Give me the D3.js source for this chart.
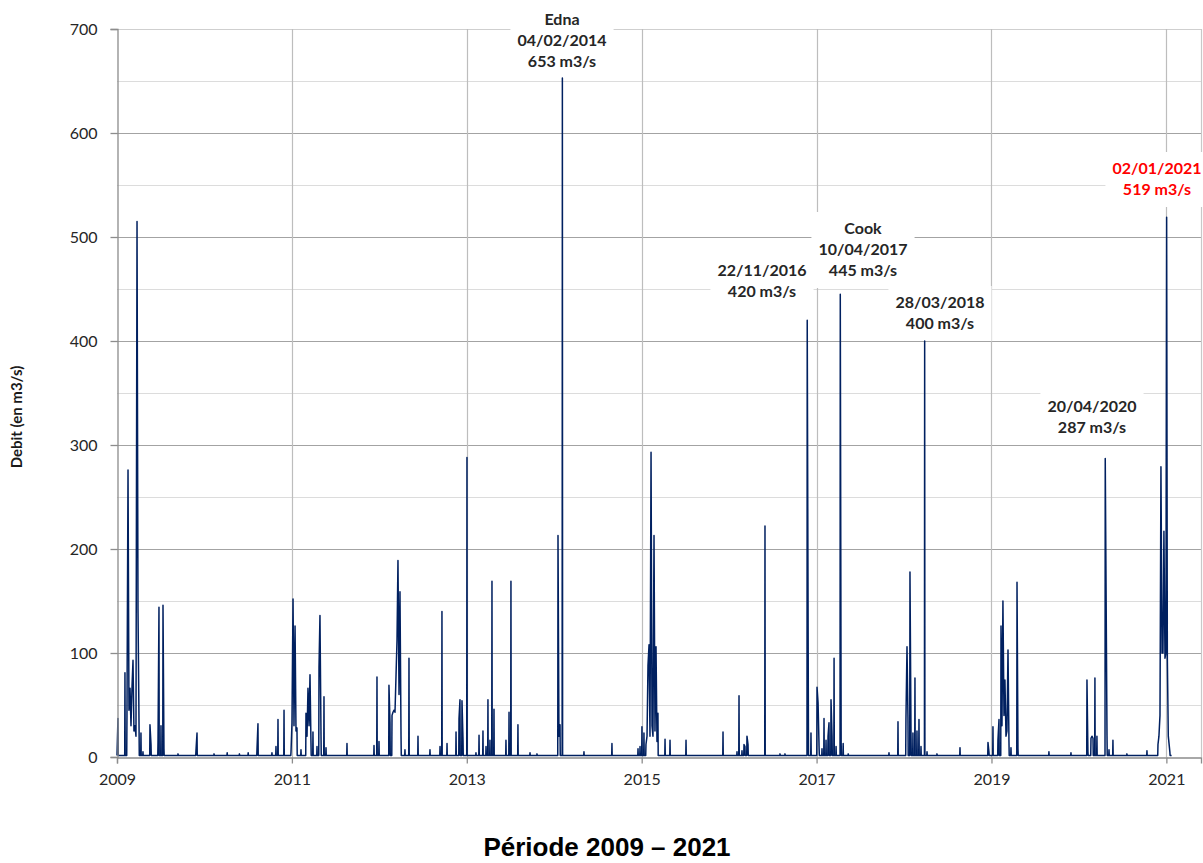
<!DOCTYPE html>
<html>
<head>
<meta charset="utf-8">
<script src="https://cdn.jsdelivr.net/npm/d3@7"></script>
<style>
  html, body { margin: 0; padding: 0; background: #fff; }
  svg { display: block; }
</style>
</head>
<body>
<svg id="chart" width="1203" height="863"></svg>
<script>
// ---------------- DATA ----------------
// Daily flow peaks, time as decimal year, flow in m3/s
const flowTimes = [
  2009.011, 2009.091, 2009.114, 2009.126, 2009.137, 2009.149, 2009.160, 2009.172, 2009.183, 2009.194,
  2009.206, 2009.217, 2009.229, 2009.240, 2009.252, 2009.274, 2009.297, 2009.377, 2009.389, 2009.469,
  2009.480, 2009.503, 2009.526, 2009.537, 2009.698, 2009.903, 2009.915, 2010.110, 2010.260, 2010.400,
  2010.500, 2010.601, 2010.612, 2010.772, 2010.818, 2010.841, 2010.910, 2010.990, 2011.001, 2011.013,
  2011.024, 2011.036, 2011.047, 2011.058, 2011.104, 2011.161, 2011.173, 2011.184, 2011.196, 2011.207,
  2011.218, 2011.241, 2011.287, 2011.310, 2011.321, 2011.333, 2011.367, 2011.390, 2011.630, 2011.939,
  2011.973, 2011.996, 2012.110, 2012.122, 2012.145, 2012.156, 2012.168, 2012.179, 2012.191, 2012.202,
  2012.213, 2012.225, 2012.236, 2012.248, 2012.293, 2012.339, 2012.442, 2012.579, 2012.694, 2012.716,
  2012.774, 2012.877, 2012.911, 2012.922, 2012.945, 2012.957, 2013.002, 2013.105, 2013.140, 2013.185,
  2013.220, 2013.242, 2013.265, 2013.288, 2013.311, 2013.448, 2013.483, 2013.505, 2013.585, 2013.723,
  2013.803, 2014.043, 2014.054, 2014.066, 2014.093, 2014.340, 2014.660, 2014.958, 2014.981, 2015.003,
  2015.026, 2015.049, 2015.061, 2015.072, 2015.084, 2015.095, 2015.107, 2015.118, 2015.129, 2015.141,
  2015.152, 2015.164, 2015.175, 2015.186, 2015.267, 2015.324, 2015.507, 2015.930, 2016.090, 2016.113,
  2016.147, 2016.170, 2016.181, 2016.204, 2016.216, 2016.410, 2016.582, 2016.639, 2016.893, 2016.905,
  2016.936, 2017.005, 2017.017, 2017.029, 2017.062, 2017.085, 2017.108, 2017.131, 2017.142, 2017.165,
  2017.177, 2017.200, 2017.223, 2017.271, 2017.281, 2017.304, 2017.362, 2017.828, 2017.931, 2018.022,
  2018.034, 2018.045, 2018.068, 2018.080, 2018.102, 2018.125, 2018.148, 2018.171, 2018.194, 2018.236,
  2018.263, 2018.377, 2018.640, 2018.960, 2018.971, 2019.017, 2019.074, 2019.086, 2019.109, 2019.120,
  2019.131, 2019.143, 2019.154, 2019.166, 2019.177, 2019.189, 2019.200, 2019.223, 2019.292, 2019.303,
  2019.657, 2019.909, 2020.092, 2020.103, 2020.138, 2020.149, 2020.161, 2020.183, 2020.206, 2020.301,
  2020.321, 2020.344, 2020.389, 2020.549, 2020.778, 2020.904, 2020.915, 2020.927, 2020.938, 2020.950,
  2020.961, 2020.972, 2020.984, 2020.995, 2021.003, 2021.011, 2021.022, 2021.040
];
const flowValues = [
  37, 81, 40, 276, 45, 66, 30, 68, 93, 25,
  30, 20, 515, 143, 30, 23, 5, 31, 12, 15,
  144, 30, 146, 8, 3, 6, 23, 3, 4, 3,
  4, 8, 32, 4, 10, 36, 45, 5, 33, 152,
  30, 126, 25, 28, 7, 42, 20, 66, 30, 79,
  15, 24, 10, 86, 136, 20, 58, 9, 13, 11,
  77, 15, 69, 33, 40, 43, 45, 43, 79, 112,
  189, 60, 159, 20, 7, 95, 20, 7, 10, 140,
  13, 24, 37, 55, 54, 16, 288, 4, 21, 25,
  10, 55, 16, 169, 46, 16, 43, 169, 31, 4,
  3, 213, 20, 31, 653, 5, 13, 8, 10, 29,
  23, 12, 20, 88, 108, 20, 293, 30, 20, 213,
  25, 106, 15, 42, 17, 16, 16, 24, 5, 59,
  6, 12, 10, 20, 12, 222, 3, 3, 420, 74,
  23, 67, 52, 8, 8, 37, 16, 20, 33, 55,
  20, 95, 10, 445, 14, 13, 3, 4, 34, 36,
  106, 38, 178, 20, 23, 76, 25, 36, 10, 400,
  5, 3, 9, 14, 5, 29, 16, 36, 126, 30,
  150, 40, 74, 20, 25, 103, 15, 9, 168, 8,
  5, 4, 74, 5, 18, 20, 18, 76, 20, 287,
  21, 7, 16, 3, 6, 12, 20, 40, 279, 100,
  100, 217, 95, 100, 519, 95, 20, 5
];
const BASE_FLOW = 1.5;          // low-water flow between events
const SERIES_START = 2009.0;
const SERIES_END = 2021.06;

const yTicks = [0, 100, 200, 300, 400, 500, 600, 700];
const yMinorTicks = [50, 150, 250, 350, 450, 550, 650];
const xTicks = [2009, 2011, 2013, 2015, 2017, 2019, 2021];

const annTexts = [
  ["Edna", "04/02/2014", "653 m3/s"],
  ["22/11/2016", "420 m3/s"],
  ["Cook", "10/04/2017", "445 m3/s"],
  ["28/03/2018", "400 m3/s"],
  ["20/04/2020", "287 m3/s"],
  ["02/01/2021", "519 m3/s"]
];
const annColors = ["#262626", "#262626", "#262626", "#262626", "#262626", "#ff0000"];

const yAxisTitle = "Debit (en m3/s)";
const xAxisTitle = "Période 2009 – 2021";

// ---------------- LAYOUT ----------------
const W = 1203, H = 863;
const plot = { left: 117, right: 1201, top: 29, bottom: 757 };
// annotation centres (px): x centre, y centre of first line
const annLayout = [
  { x: 562, y: 19 },
  { x: 762, y: 270 },
  { x: 863, y: 228 },
  { x: 940, y: 302 },
  { x: 1092, y: 406 },
  { x: 1157, y: 168 }
];
const LINE_H = 21;

const svg = d3.select("#chart");

const x = d3.scaleLinear().domain([2009, 2021.396]).range([plot.left, plot.right]);
const y = d3.scaleLinear().domain([0, 700]).range([plot.bottom, plot.top]);

const g = svg.append("g");

// minor horizontal gridlines
g.selectAll("line.minor").data(yMinorTicks).join("line")
  .attr("x1", plot.left).attr("x2", plot.right)
  .attr("y1", d => Math.round(y(d)) + 0.5).attr("y2", d => Math.round(y(d)) + 0.5)
  .attr("stroke", "#dcdcdc").attr("stroke-width", 1);

// major horizontal gridlines
g.selectAll("line.major").data(yTicks.filter(d => d > 0)).join("line")
  .attr("x1", plot.left).attr("x2", plot.right)
  .attr("y1", d => Math.round(y(d)) + 0.5).attr("y2", d => Math.round(y(d)) + 0.5)
  .attr("stroke", d => d === 700 ? "#cfcfcf" : "#a3a3a3").attr("stroke-width", 1.2);

// vertical gridlines
g.selectAll("line.vgrid").data(xTicks.filter(d => d > 2009)).join("line")
  .attr("x1", d => Math.round(x(d)) + 0.5).attr("x2", d => Math.round(x(d)) + 0.5)
  .attr("y1", plot.top).attr("y2", plot.bottom)
  .attr("stroke", "#bdbdbd").attr("stroke-width", 1.2);

// right border
g.append("line")
  .attr("x1", plot.right + 0.5).attr("x2", plot.right + 0.5)
  .attr("y1", plot.top).attr("y2", plot.bottom)
  .attr("stroke", "#c8c8c8").attr("stroke-width", 1.2);

// annotation white boxes (drawn over gridlines, under the series)
const fontAnn = "bold 16px Lato";
const ctx = document.createElement("canvas").getContext("2d");
ctx.font = fontAnn;
annTexts.forEach((lines, i) => {
  const L = annLayout[i];
  const w = d3.max(lines, s => ctx.measureText(s).width) + 14;
  const top = L.y - 16;
  const bottom = L.y + (lines.length - 1) * LINE_H + 18;
  g.append("rect")
    .attr("x", L.x - w / 2).attr("y", top)
    .attr("width", w).attr("height", bottom - top)
    .attr("fill", "#ffffff");
});

// series: peaks with low-water flow between separated events
const DAY = 1 / 365.25;
const GAP = 0.02;
const pts = [[SERIES_START, BASE_FLOW]];
flowTimes.forEach((t, i) => {
  const prevT = i === 0 ? SERIES_START : flowTimes[i - 1];
  if (t - prevT > GAP) {
    if (i > 0) pts.push([prevT + DAY, BASE_FLOW]);
    pts.push([t - DAY, BASE_FLOW]);
  }
  pts.push([t, flowValues[i]]);
});
pts.push([flowTimes[flowTimes.length - 1] + DAY, BASE_FLOW]);
pts.push([SERIES_END, BASE_FLOW]);

const line = d3.line().x(d => x(d[0])).y(d => y(d[1]));
g.append("path")
  .datum(pts)
  .attr("d", line)
  .attr("fill", "none")
  .attr("stroke", "#002060")
  .attr("stroke-width", 1.5)
  .attr("stroke-linejoin", "round");

// axes
const yAxis = d3.axisLeft(y).tickValues(yTicks).tickSize(7).tickPadding(13).tickFormat(d3.format("d"));
const yG = g.append("g").attr("transform", `translate(${plot.left + 0.5},0)`).call(yAxis);
yG.select(".domain").attr("stroke", "#8c8c8c").attr("stroke-width", 1.3);
yG.selectAll(".tick line").attr("stroke", "#8c8c8c").attr("stroke-width", 1.3);
yG.selectAll(".tick text").attr("fill", "#262626").style("font", "16px Lato").attr("dy", "0.34em");

const xAxis = d3.axisBottom(x).tickValues(xTicks).tickSize(6).tickPadding(10).tickFormat(d3.format("d"));
const xG = g.append("g").attr("transform", `translate(0,${plot.bottom + 0.5})`).call(xAxis);
xG.select(".domain").attr("stroke", "#8c8c8c").attr("stroke-width", 1.3);
xG.selectAll(".tick line").attr("stroke", "#8c8c8c").attr("stroke-width", 1.3);
xG.selectAll(".tick text").attr("fill", "#262626").style("font", "16px Lato");

// annotation texts
annTexts.forEach((lines, i) => {
  const L = annLayout[i];
  const t = g.append("text")
    .attr("text-anchor", "middle")
    .attr("fill", annColors[i])
    .style("font", fontAnn);
  lines.forEach((s, k) => {
    t.append("tspan").attr("x", L.x).attr("y", L.y + k * LINE_H + 6).text(s);
  });
});

// axis titles
svg.append("text")
  .attr("transform", `translate(22,417) rotate(-90)`)
  .attr("text-anchor", "middle")
  .attr("fill", "#1a1a1a")
  .style("font", "bold 15px Lato")
  .text(yAxisTitle);

svg.append("text")
  .attr("x", 607).attr("y", 856)
  .attr("text-anchor", "middle")
  .attr("fill", "#000")
  .style("font", "bold 26px 'Liberation Sans', Arial, sans-serif")
  .text(xAxisTitle);
</script>
</body>
</html>
